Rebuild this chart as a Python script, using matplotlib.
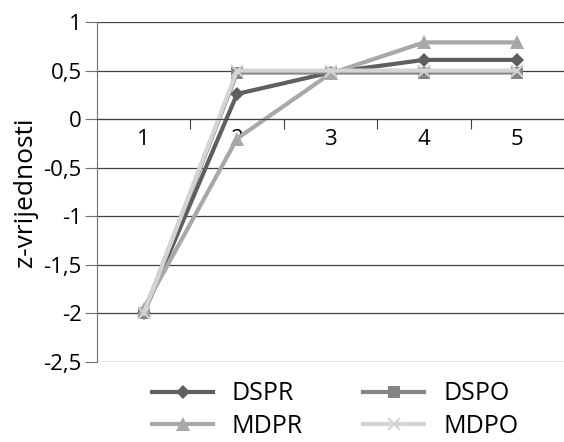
import matplotlib
matplotlib.use("Agg")
import matplotlib.pyplot as plt
import numpy as np

categories = ["1", "2", "3", "4", "5"]
dspr = [-2.0, 0.26, 0.48, 0.61, 0.61]
dspo = [-2.0, 0.48, 0.48, 0.48, 0.48]
mdpr = [-1.95, -0.2, 0.47, 0.79, 0.79]
mdpo = [-2.0, 0.5, 0.5, 0.5, 0.5]
yticks = [1, 0.5, 0, -0.5, -1, -1.5, -2, -2.5]
ytick_labels = ["1", "0,5", "0", "-0,5", "-1", "-1,5", "-2", "-2,5"]

plt.rcParams['font.family'] = ['Open Sans', 'DejaVu Sans']

fig = plt.figure(figsize=(5.64, 4.42), dpi=100)
ax = fig.add_axes([97/564, 1-362/442, 1-97/564, (362-22)/442])

x = np.arange(1, len(categories)+1)
series = [
    ("DSPR", dspr, "#5f5f5f", "D", 7),
    ("DSPO", dspo, "#858585", "s", 8),
    ("MDPR", mdpr, "#a8a8a8", "^", 10),
    ("MDPO", mdpo, "#d4d4d4", "x", 8),
]
handles = {}
for name, vals, col, mk, ms in series:
    kw = dict(markeredgewidth=1.5) if mk == "x" else dict(markeredgewidth=0)
    h, = ax.plot(x, vals, color=col, lw=3.0, marker=mk, markersize=ms,
                 markerfacecolor=col, markeredgecolor=col, label=name, **kw)
    handles[name] = h

ax.set_xlim(0.5, 5.5)
ax.set_ylim(-2.5, 1)
ax.set_yticks(yticks)
ax.set_yticklabels(ytick_labels, fontsize=16)
for yv in yticks:
    ax.axhline(yv, color="#404040", lw=0.9, zorder=0)

for s in ["top", "right"]:
    ax.spines[s].set_visible(False)
ax.spines["left"].set_color("#707070")
ax.spines["bottom"].set_position(("data", 0))
ax.spines["bottom"].set_color("#404040")

ax.set_xticks([1.5, 2.5, 3.5, 4.5])
ax.set_xticklabels([])
ax.tick_params(axis="x", which="major", length=7, direction="out", color="#404040")
ax.set_xticks(x, minor=True)
ax.set_xticklabels(categories, minor=True, fontsize=16)
ax.tick_params(axis="x", which="minor", length=0, pad=7)
ax.tick_params(axis="y", length=9, color="#707070", pad=2)

ax.set_ylabel("z-vrijednosti", fontsize=19, labelpad=4)

order = ["DSPR", "MDPR", "DSPO", "MDPO"]
fig.legend([handles[n] for n in order], order, ncol=2, fontsize=18,
           loc="center", bbox_to_anchor=(0.594, 0.072), frameon=False,
           handlelength=2.45, columnspacing=2.4, labelspacing=0.3,
           handletextpad=0.75, borderpad=0.1)

fig.savefig("out.png", dpi=100)
